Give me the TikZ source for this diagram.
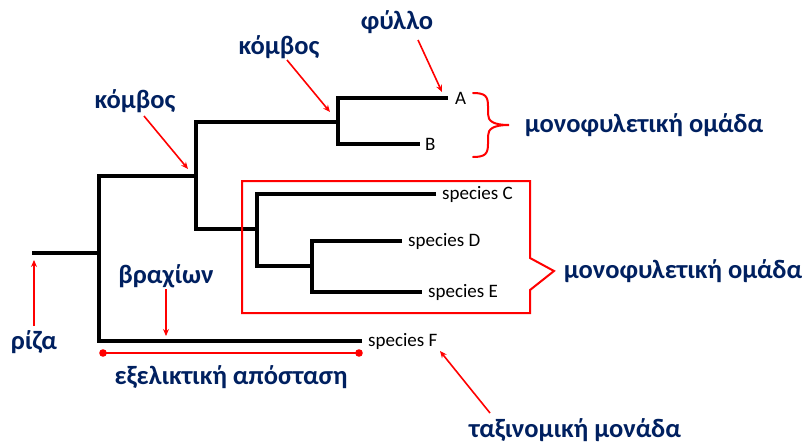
\documentclass[tikz,border=0pt]{standalone}
\usepackage{fontspec}
\setmainfont{Carlito}
\usetikzlibrary{arrows.meta}
\definecolor{navy}{RGB}{0,32,96}
\definecolor{mred}{RGB}{255,0,0}
\tikzset{
  branch/.style={line width=4.2pt, black, line cap=butt, line join=miter},
  callout/.style={mred, line width=1.6pt, -{Stealth[length=7pt,width=6pt]}},
  term/.style={font=\fontsize{19}{22}\selectfont, anchor=west, inner sep=0pt},
  lbl/.style={font=\bfseries\fontsize{26.5}{30}\selectfont, text=navy, inner sep=0pt},
  redline/.style={mred, line width=2pt},
}
\begin{document}
\begin{tikzpicture}[x=1pt,y=-1pt]
\useasboundingbox (0,0) rectangle (802,444);

% leaf labels
\node[term] (A) at (455,98) {A};
\node[term] (B) at (425,144) {B};
\node[term] (C) at (442,194) {species C};
\node[term] (D) at (408,241) {species D};
\node[term] (E) at (428,292) {species E};
\node[term] (F) at (368,341) {species F};

% tree: stub, internal nodes and tips
\coordinate (r0) at (32,253);
\coordinate (n1) at (99,253);
\coordinate (n2) at (196,176);
\coordinate (n3) at (338,122);
\coordinate (n4) at (257,229);
\coordinate (n5) at (312,266);
\coordinate (tA) at (448,98);
\coordinate (tB) at (420,144);
\coordinate (tC) at (436,194);
\coordinate (tD) at (402,241);
\coordinate (tE) at (422,292);
\coordinate (tF) at (362,341);

\draw[branch] (r0) -- (n1);
\draw[branch] (tF) -| (n1) |- (n2);
\draw[branch] (n3) -| (n2) |- (n4);
\draw[branch] (tA) -| (n3) |- (tB);
\draw[branch] (tC) -| (n4) |- (n5);
\draw[branch] (tD) -| (n5) |- (tE);

% monophyletic group markers
\draw[redline, line join=miter]
  (242,181) -- (530,181) -- (530,258) -- (554,271) -- (530,290) -- (530,313) -- (242,313) -- cycle;
\draw[redline, line cap=round]
  (473,93) .. controls (485,93) and (488,96) .. (488,106) -- (488,114)
  .. controls (488,121) and (493,125) .. (509,125)
  .. controls (493,125) and (488,129) .. (488,136) -- (488,144)
  .. controls (488,154) and (485,157) .. (473,157);

% labels
\node[lbl] (leaf) at (397,22) {φύλλο};
\node[lbl] (knot1) at (279,47) {κόμβος};
\node[lbl] (knot2) at (135,101) {κόμβος};
\node[lbl] (mono1) at (644,125) {μονοφυλετική ομάδα};
\node[lbl] (mono2) at (683,271) {μονοφυλετική ομάδα};
\node[lbl] (root) at (34,342) {ρίζα};
\node[lbl] (arm) at (166,276) {βραχίων};
\node[lbl] (dist) at (231,377) {εξελικτική απόσταση};
\node[lbl] (taxon) at (575,430) {ταξινομική μονάδα};

% callout arrows
\coordinate (s1) at (418,40);
\coordinate (s2) at (287,60);
\coordinate (s3) at (144,116);
\coordinate (s4) at (34,326);
\coordinate (s5) at (166,289);
\coordinate (s6) at (490,413);
\coordinate (t1) at (442,92);
\coordinate (t2) at (330,112);
\coordinate (t3) at (188,169);
\coordinate (t4) at (34,260);
\coordinate (t5) at (166,336);
\coordinate (t6) at (440,351);
\draw[callout] (s1) -- (t1);
\draw[callout] (s2) -- (t2);
\draw[callout] (s3) -- (t3);
\draw[callout] (s4) -- (t4);
\draw[callout] (s5) -- (t5);
\draw[callout] (s6) -- (t6);

% evolutionary distance bar
\coordinate (d1) at (103,353);
\coordinate (d2) at (359,353);
\draw[redline] (d1) -- (d2);
\fill[mred] (d1) circle (3.8) (d2) circle (3.8);
\end{tikzpicture}
\end{document}
